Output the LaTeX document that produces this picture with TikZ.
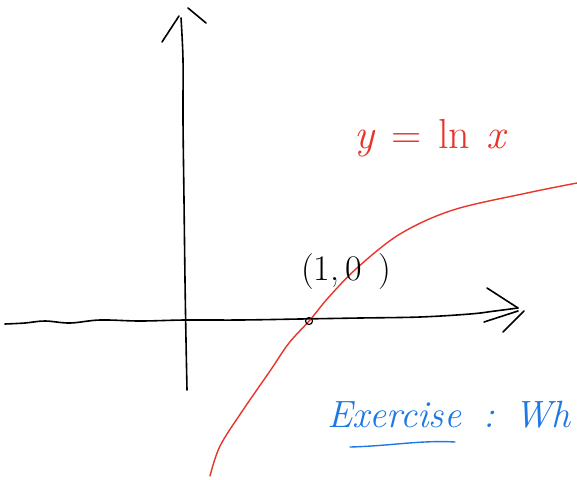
\documentclass[tikz,border=0pt]{standalone}
\usepackage{fontspec}
\usepackage{xcolor}
\definecolor{inkred}{RGB}{232,53,42}
\definecolor{inkblue}{RGB}{30,120,230}
\tikzset{
  ink/.style={line width=1.6pt, line cap=round, line join=round},
  redink/.style={ink, draw=inkred, line width=1.4pt},
  hand/.style={inner sep=0pt}
}
\begin{document}
\begin{tikzpicture}[x=1pt,y=-1pt]
\useasboundingbox (0,0) rectangle (577,479);
% horizontal axis
\coordinate (xs) at (5,324);
\coordinate (xe) at (518,308);
\draw[ink] plot[smooth, tension=0.6] coordinates {(xs) (25,323) (45,321) (70,323) (100,320) (140,321) (185,320) (240,320) (300,319) (360,318) (420,317) (470,314) (495,311) (xe)};
\draw[ink] (487,288) -- (xe);
\draw[ink] (484,322) -- (518,311);
\draw[ink] (524,311) -- (503,332);
% vertical axis
\coordinate (ys) at (187,390);
\coordinate (ye) at (181,18);
\draw[ink] plot[smooth, tension=0.6] coordinates {(ye) (183,60) (183,120) (184,200) (185,280) (186,340) (ys)};
\draw[ink] (162,42) -- (179,16);
\draw[ink] (188,8) -- (206,23);
% curve y = ln x
\draw[redink] plot[smooth, tension=0.55] coordinates {(210,476) (220,446) (243,410) (270,371) (289,343) (310,320) (328,298) (357,268) (400,234) (453,210) (527,193) (577,183)};
% point (1,0)
\node[circle, draw, line width=1.2pt, inner sep=0pt, minimum size=7pt] (p) at (309,321) {};
% labels
\node[hand, font=\fontsize{36}{36}\selectfont] (lbl) at (346,272) {(1,\,0\;\,)};
\node[hand, text=inkred, font=\fontsize{42}{42}\selectfont] (eq) at (431,138) {\textit{y}\hspace{16pt}=\hspace{16pt}ln\hspace{16pt}\textit{x}};
\node[hand, text=inkblue, anchor=west, font=\itshape\fontsize{38}{38}\selectfont] (ex) at (327,415) {Exercise\hspace{22pt}:\hspace{20pt}Wh};
\draw[ink, draw=inkblue, line width=1.4pt] (350,447) .. controls (390,446) and (420,440) .. (455,442);
\end{tikzpicture}
\end{document}
